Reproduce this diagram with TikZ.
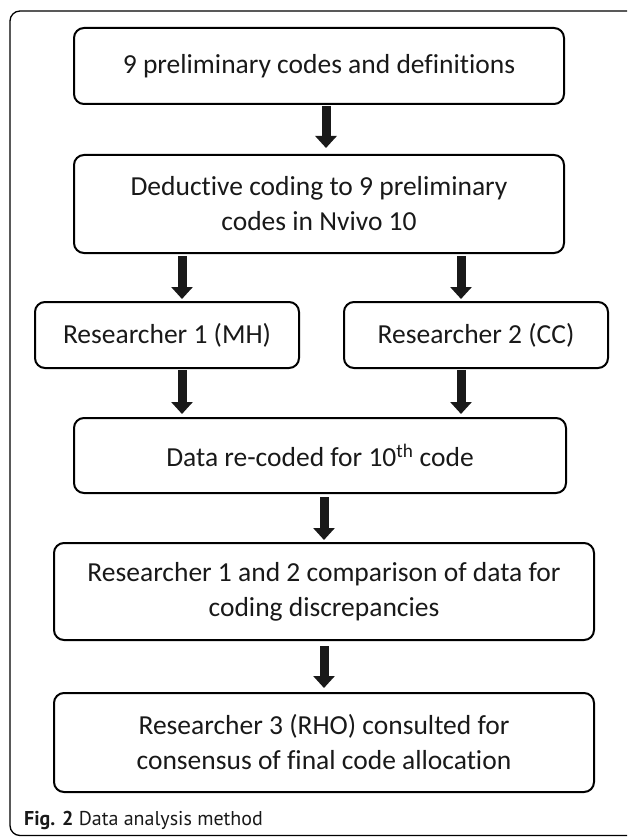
\documentclass[tikz,border=0pt]{standalone}
\usepackage{fontspec}
\setmainfont[Ligatures=NoCommon]{Carlito}
\newfontfamily\capfont{PT Sans}
\usetikzlibrary{arrows.meta}
\begin{document}
\begin{tikzpicture}[x=1pt,y=-1pt,
  box/.style={draw=black, line width=2pt, rounded corners=10pt, inner sep=0pt, outer sep=0pt,
    align=center, text=black!90, font=\fontsize{27.5}{35}\selectfont},
  blockarrow/.style={draw=black!90, line width=9pt, -{Triangle[length=12pt,width=21pt]}}
]
\useasboundingbox (0,0) rectangle (627,837);
\clip (0,0) rectangle (627,837);
\draw[line width=1.3pt, rounded corners=10pt] (10,11) rectangle (637,835.5);

\node[box, minimum width=490pt, minimum height=76pt] (b1) at (319,66) {9 preliminary codes and definitions};
\node[box, minimum width=490pt, minimum height=98pt] (b2) at (319,204) {Deductive coding to 9 preliminary\\codes in Nvivo 10};
\node[box, minimum width=264pt, minimum height=66pt] (r1) at (167,335) {Researcher 1 (MH)};
\node[box, minimum width=264pt, minimum height=66pt] (r2) at (476,335) {Researcher 2 (CC)};
\node[box, minimum width=492pt, minimum height=75pt] (b3) at (320,455.5) {Data re-coded for 10\textsuperscript{th} code};
\node[box, minimum width=540pt, minimum height=97pt] (b4) at (324,591.5) {Researcher 1 and 2 comparison of data for\\coding discrepancies};
\node[box, minimum width=540pt, minimum height=99pt] (b5) at (324,742.5) {Researcher 3 (RHO) consulted for\\consensus of final code allocation};

\node[anchor=west, inner sep=0pt, font=\capfont\fontsize{20}{24}\selectfont, text=black!90] (cap) at (24,820) {\textbf{Fig. 2} Data analysis method};

\draw[blockarrow, shorten <=2pt, shorten >=7pt] ([xshift=7pt]b1.south) -- ([xshift=7pt]b2.north);
\draw[blockarrow, shorten <=3pt, shorten >=3pt] ([xshift=-137pt]b2.south) -- ([xshift=15pt]r1.north);
\draw[blockarrow, shorten <=3pt, shorten >=3pt] ([xshift=142pt]b2.south) -- ([xshift=-15pt]r2.north);
\draw[blockarrow, shorten <=2pt, shorten >=4pt] ([xshift=15pt]r1.south) -- ([xshift=-138pt]b3.north);
\draw[blockarrow, shorten <=2pt, shorten >=4pt] ([xshift=-15pt]r2.south) -- ([xshift=141pt]b3.north);
\draw[blockarrow, shorten <=4pt, shorten >=3pt] ([xshift=4pt]b3.south) -- (b4.north);
\draw[blockarrow, shorten <=6pt, shorten >=5pt] (b4.south) -- (b5.north);
\end{tikzpicture}
\end{document}
